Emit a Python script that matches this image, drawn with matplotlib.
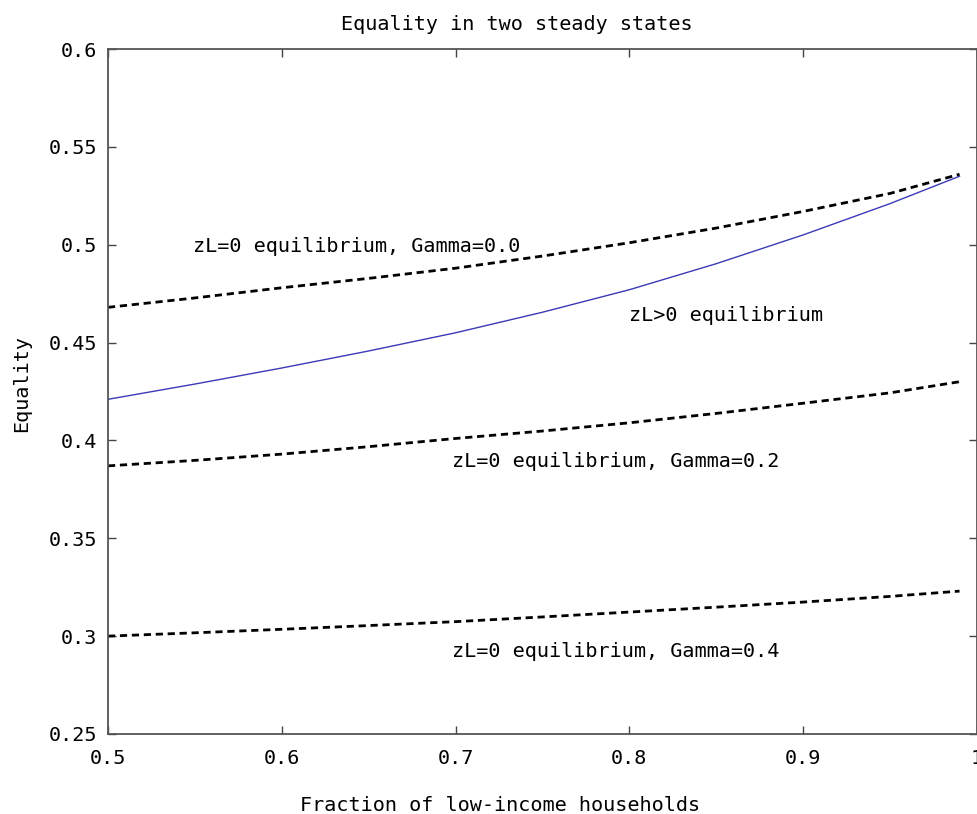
import numpy as np
import matplotlib
matplotlib.use("Agg")
import matplotlib.pyplot as plt

plt.rcParams['font.family'] = ['DejaVu Sans Mono', 'DejaVu Sans']

# 数据
frac = [0.5, 0.55, 0.6, 0.65, 0.7, 0.75, 0.8, 0.85, 0.9, 0.95, 0.99]
eq_pos = [0.421, 0.4288, 0.437, 0.4457, 0.455, 0.4655, 0.477, 0.4903, 0.505, 0.521, 0.535]  # zL>0
eq_g00 = [0.468, 0.4728, 0.478, 0.4828, 0.488, 0.4942, 0.501, 0.5085, 0.517, 0.5262, 0.536]  # Gamma=0.0
eq_g02 = [0.387, 0.3898, 0.393, 0.3968, 0.401, 0.4048, 0.409, 0.4138, 0.419, 0.4243, 0.430]  # Gamma=0.2
eq_g04 = [0.300, 0.3017, 0.3035, 0.3054, 0.3074, 0.3098, 0.3123, 0.3148, 0.3174, 0.3203, 0.323]  # Gamma=0.4

labels = ['zL>0 equilibrium',
          'zL=0 equilibrium, Gamma=0.0',
          'zL=0 equilibrium, Gamma=0.2',
          'zL=0 equilibrium, Gamma=0.4']
label_pos = [(0.800, 0.4636), (0.549, 0.4993), (0.698, 0.3890), (0.698, 0.2924)]

xticks = [0.5, 0.6, 0.7, 0.8, 0.9, 1]
yticks = [0.25, 0.3, 0.35, 0.4, 0.45, 0.5, 0.55, 0.6]

fs = 14.5
fig = plt.figure(figsize=(9.78, 8.14), dpi=100)
ax = fig.add_axes([0.1104, 0.0983, 0.8885, 0.8415])

ax.plot(frac, eq_pos, color='#3a3ab8', lw=1.0)
for ys in (eq_g00, eq_g02, eq_g04):
    ax.plot(frac, ys, color='black', lw=2.0, linestyle=(0, (2.6, 1.7)))

for txt, (tx, ty) in zip(labels, label_pos):
    ax.text(tx, ty, txt, fontsize=fs, ha='left', va='center')

ax.set_xlim(0.5, 1)
ax.set_ylim(0.25, 0.6)
ax.set_xticks(xticks)
ax.set_xticklabels([f'{v:g}' for v in xticks])
ax.set_yticks(yticks)
ax.set_yticklabels([f'{v:g}' for v in yticks])
ax.tick_params(direction='in', length=6, width=1, top=True, right=True,
               labelsize=fs, color='#444444')
ax.tick_params(axis='x', pad=11)
ax.tick_params(axis='y', pad=8)
for sp in ax.spines.values():
    sp.set_color('#555555')
    sp.set_linewidth(1.3)

fig.text(0.528, 1 - 30 / 814, 'Equality in two steady states', fontsize=fs,
         ha='center', va='baseline')
fig.text(0.511, 1 - 811 / 814, 'Fraction of low-income households', fontsize=fs,
         ha='center', va='baseline')
fig.text(22 / 978, 1 - 384 / 814, 'Equality', fontsize=fs, rotation=90,
         ha='center', va='center')

fig.savefig('out.png', dpi=100)
